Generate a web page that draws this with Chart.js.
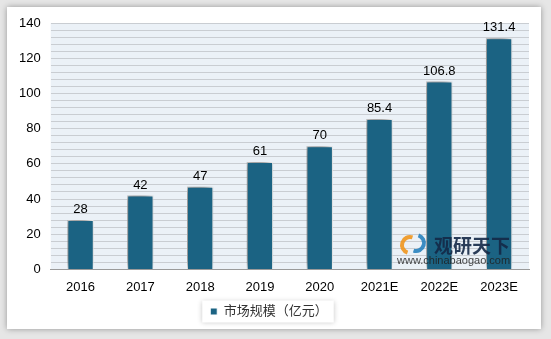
<!DOCTYPE html>
<html>
<head>
<meta charset="utf-8">
<script src="https://cdn.jsdelivr.net/npm/chart.js@4.4.0/dist/chart.umd.min.js"></script>
<style>
  html, body { margin: 0; padding: 0; background: #e6e6e6; }
  #card {
    position: absolute; left: 7px; top: 7px; width: 534px; height: 322px;
    background: #fff; box-shadow: 0 0 6px rgba(0,0,0,0.35);
  }
  #wrap { position: absolute; left: 0; top: 0; width: 551px; height: 339px; }
</style>
</head>
<body>
<div id="card"></div>
<div id="wrap"><canvas id="marketChart" width="551" height="339"></canvas></div>
<script>
// 市场规模 data
const years = ["2016", "2017", "2018", "2019", "2020", "2021E", "2022E", "2023E"];
const marketSize = [28, 42, 47, 61, 70, 85.4, 106.8, 131.4];
const yTicks = [0, 20, 40, 60, 80, 100, 120, 140];

const fontFamily = "'Liberation Sans', Arial, 'Noto Sans CJK SC', sans-serif";

// plot background + legend frame
const plotBg = {
  id: "plotBg",
  beforeDraw(chart) {
    const { ctx, chartArea: a } = chart;
    ctx.save();
    ctx.fillStyle = "#ebf1f7";
    ctx.fillRect(a.left, a.top, a.right - a.left, a.bottom - a.top);
    const hit = chart.legend.legendHitBoxes[0];
    if (hit) {
      const cy = hit.top + hit.height / 2;
      ctx.shadowColor = "rgba(0,0,0,0.22)";
      ctx.shadowBlur = 5;
      ctx.fillStyle = "#fff";
      ctx.fillRect(hit.left - 8, cy - 11, hit.width + 14, 22);
    }
    ctx.restore();
  },
};

// shadow behind bars
const barShadow = {
  id: "barShadow",
  beforeDatasetDraw(chart) {
    const ctx = chart.ctx;
    ctx.save();
    ctx.shadowColor = "rgba(0,0,0,0.55)";
    ctx.shadowBlur = 8;
    ctx.shadowOffsetX = -3;
    ctx.shadowOffsetY = -2;
  },
  afterDatasetDraw(chart) {
    chart.ctx.restore();
  },
};

// value labels + watermark
const valueLabels = {
  id: "valueLabels",
  afterDatasetsDraw(chart) {
    const ctx = chart.ctx;
    const meta = chart.getDatasetMeta(0);
    ctx.save();
    ctx.font = "13px " + fontFamily;
    ctx.fillStyle = "#000";
    ctx.textAlign = "center";
    ctx.textBaseline = "bottom";
    meta.data.forEach((bar, i) => {
      ctx.fillText(String(marketSize[i]), bar.x, bar.y - 4);
    });
    // watermark
    ctx.font = "bold 19px 'Noto Sans CJK SC', sans-serif";
    ctx.fillStyle = "rgba(20,40,70,0.9)";
    ctx.textAlign = "left";
    ctx.textBaseline = "alphabetic";
    ctx.fillText("观研天下", 434, 253);
    ctx.font = "11px " + fontFamily;
    ctx.fillStyle = "rgba(30,30,30,0.85)";
    ctx.fillText("www.chinabaogao.com", 397, 264);
    ctx.lineWidth = 4;
    ctx.beginPath();
    ctx.arc(410, 245, 8, Math.PI * 0.6, Math.PI * 1.6);
    ctx.strokeStyle = "rgba(240,150,30,0.9)";
    ctx.stroke();
    ctx.beginPath();
    ctx.arc(416, 243, 8, Math.PI * 1.6, Math.PI * 0.6);
    ctx.strokeStyle = "rgba(40,130,190,0.9)";
    ctx.stroke();
    ctx.restore();
  },
};

const ctx = document.getElementById("marketChart").getContext("2d");
const marketChart = new Chart(ctx, {
  type: "bar",
  data: {
    labels: years,
    datasets: [
      {
        label: "市场规模（亿元）",
        data: marketSize,
        backgroundColor: "#1b6383",
        borderColor: "#ffffff",
        borderWidth: 1,
        categoryPercentage: 1,
        barPercentage: 0.44,
      },
    ],
  },
  options: {
    responsive: false,
    animation: false,
    layout: {
      padding: { top: 23, left: 9, right: 22, bottom: 11 },
    },
    plugins: {
      legend: {
        position: "bottom",
        labels: {
          boxWidth: 7,
          boxHeight: 7,
          padding: 8,
          color: "#333",
          font: { size: 13, family: fontFamily },
        },
      },
      tooltip: { enabled: false },
    },
    scales: {
      y: {
        min: 0,
        max: 140,
        border: { display: false },
        grid: {
          color: "#c9cdd2",
          drawTicks: false,
        },
        afterBuildTicks(axis) {
          const t = [];
          for (let v = 0; v <= 140; v += 4) t.push({ value: v });
          axis.ticks = t;
        },
        ticks: {
          autoSkip: false,
          padding: 10,
          color: "#000",
          font: { size: 13, family: fontFamily },
          callback: (v) => (yTicks.includes(v) ? v : ""),
        },
      },
      x: {
        border: { display: true, color: "#9a9a9a" },
        grid: { display: false },
        ticks: {
          padding: 2,
          color: "#000",
          font: { size: 13, family: fontFamily },
        },
      },
    },
  },
  plugins: [plotBg, barShadow, valueLabels],
});
</script>
</body>
</html>
